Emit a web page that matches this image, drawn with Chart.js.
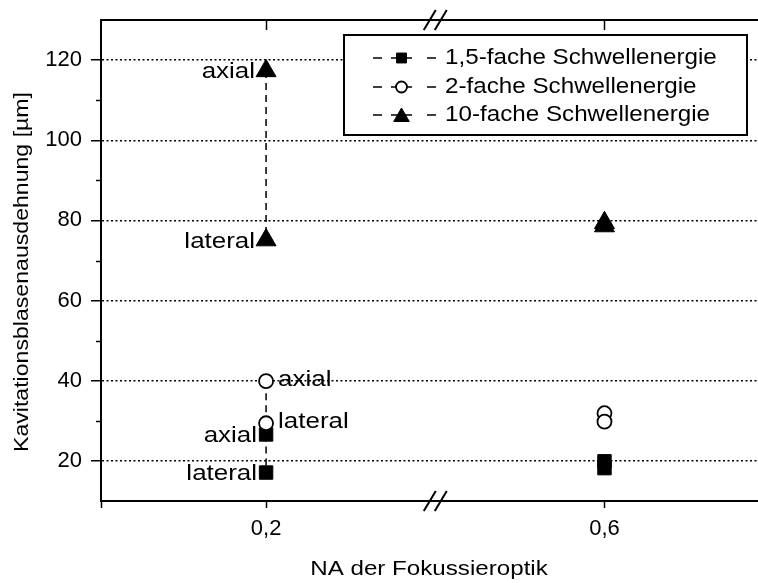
<!DOCTYPE html>
<html>
<head>
<meta charset="utf-8">
<script src="https://cdn.jsdelivr.net/npm/chart.js@4.4.1/dist/chart.umd.min.js"></script>
<style>
  html, body { margin: 0; padding: 0; background: #fff; }
  #wrap { width: 758px; height: 583px; overflow: hidden; }
</style>
</head>
<body>
<div id="wrap"><canvas id="blasenChart" width="758" height="583"></canvas></div>
<script>
// NA der Fokussieroptik
var naValues = [0.2, 0.6];
var pointNames = ['axial', 'lateral'];

// Blasenausdehnung in µm, ein Wert je NA
var axial15 = [26.6, 19.9];
var lateral15 = [17.1, 18.2];
var axial2 = [39.9, 31.9];
var lateral2 = [29.4, 29.8];
var axial10 = [117.3, 79.4];
var lateral10 = [75.1, 78.6];

var seriesLabels = ['1,5-fache Schwellenergie', '2-fache Schwellenergie', '10-fache Schwellenergie'];
var yLabelTicks = [20, 40, 60, 80, 100, 120];

var FONT = "'Liberation Sans', Arial, sans-serif";

// broken x axis: values right of the break are pulled to the left
var xBreak = 0.3025;
var xShift = 0.195;
function axisPos(na) { return na > xBreak ? na - xShift : na; }
function naFromPos(v) { return v > xBreak ? v + xShift : v; }

// axial + lateral per NA, null ends the dashed segment
function buildPoints(axial, lateral) {
  var pts = [];
  naValues.forEach(function(na, i) {
    pts.push({x: axisPos(na), y: axial[i]});
    pts.push({x: axisPos(na), y: lateral[i]});
    pts.push({x: axisPos(na), y: null});
  });
  return pts;
}

var common = {
  showLine: true,
  spanGaps: false,
  borderColor: '#000',
  borderWidth: 1.5,
  borderDash: [7, 5],
  pointBorderColor: '#000'
};

var datasets = [
  Object.assign({}, common, {
    label: seriesLabels[0],
    data: buildPoints(axial15, lateral15),
    pointStyle: 'rect', pointRadius: 9.5, pointBorderWidth: 1,
    pointBackgroundColor: '#000', order: 1
  }),
  Object.assign({}, common, {
    label: seriesLabels[1],
    data: buildPoints(axial2, lateral2),
    pointStyle: 'circle', pointRadius: 7, pointBorderWidth: 1.8,
    pointBackgroundColor: '#fff', order: 0
  }),
  Object.assign({}, common, {
    label: seriesLabels[2],
    data: buildPoints(axial10, lateral10),
    pointStyle: 'triangle', pointRadius: 11.5, pointBorderWidth: 1,
    pointBackgroundColor: '#000', order: 2
  })
];

function stretchText(ctx, text, x, y, align, sx, rot) {
  ctx.save();
  ctx.translate(x, y);
  if (rot) ctx.rotate(rot);
  ctx.scale(sx, 1);
  ctx.textAlign = align;
  ctx.textBaseline = 'middle';
  ctx.fillText(text, 0, 0);
  ctx.restore();
}

// top axis, break marks, minor ticks, titles
var framePlugin = {
  id: 'frame',
  afterDraw: function(chart) {
    var ctx = chart.ctx, a = chart.chartArea;
    var xs = chart.scales.x, ys = chart.scales.y;
    ctx.save();
    ctx.strokeStyle = '#000';
    ctx.fillStyle = '#000';

    ctx.lineWidth = 2;
    ctx.beginPath();
    ctx.moveTo(a.left - 1, a.top);
    ctx.lineTo(a.right, a.top);
    ctx.stroke();

    ctx.lineWidth = 1.5;
    naValues.forEach(function(na) {
      var px = Math.round(xs.getPixelForValue(axisPos(na))) + 0.5;
      ctx.beginPath();
      ctx.moveTo(px, a.top);
      ctx.lineTo(px, a.top + 10);
      ctx.stroke();
    });

    ys.ticks.forEach(function(t) {
      if (t.value <= ys.min || t.value >= ys.max || yLabelTicks.indexOf(t.value) >= 0) return;
      var py = Math.round(ys.getPixelForValue(t.value)) + 0.5;
      ctx.beginPath();
      ctx.moveTo(a.left - 5, py);
      ctx.lineTo(a.left, py);
      ctx.stroke();
    });

    // "//" on both x axis lines
    var bx = xs.getPixelForValue(xBreak);
    ctx.lineWidth = 2;
    [a.top, a.bottom].forEach(function(yy) {
      [-5.5, 5.5].forEach(function(dx) {
        ctx.beginPath();
        ctx.moveTo(bx + dx - 6, yy + 10);
        ctx.lineTo(bx + dx + 6, yy - 10);
        ctx.stroke();
      });
    });

    ctx.font = '21px ' + FONT;
    stretchText(ctx, 'NA der Fokussieroptik', 429, 569, 'center', 1.15);
    stretchText(ctx, 'Kavitationsblasenausdehnung [µm]', 22, 272, 'center', 1.1, -Math.PI / 2);
    ctx.restore();
  }
};

// axial / lateral next to the points at NA 0,2
var pointLabelPlugin = {
  id: 'pointLabels',
  afterDatasetsDraw: function(chart) {
    var ctx = chart.ctx;
    var offsets = [[-9, 1.5], [12, -1.5], [-11, 1.5]];
    ctx.save();
    ctx.fillStyle = '#000';
    ctx.font = '22px ' + FONT;
    chart.data.datasets.forEach(function(ds, d) {
      var meta = chart.getDatasetMeta(d);
      pointNames.forEach(function(name, j) {
        var el = meta.data[j];
        var off = offsets[d];
        stretchText(ctx, name, el.x + off[0], el.y + off[1], off[0] < 0 ? 'right' : 'left', 1.18);
      });
    });
    ctx.restore();
  }
};

// legend box inside the plot
var boxLegendPlugin = {
  id: 'boxLegend',
  afterDraw: function(chart) {
    var ctx = chart.ctx;
    var box = {left: 344, top: 35, right: 747, bottom: 135};
    var rows = [58, 87, 115];
    var legendRadius = [7, 5.5, 9];
    ctx.save();
    ctx.fillStyle = '#fff';
    ctx.fillRect(box.left, box.top, box.right - box.left, box.bottom - box.top);
    ctx.strokeStyle = '#000';
    ctx.lineWidth = 2;
    ctx.strokeRect(box.left, box.top, box.right - box.left, box.bottom - box.top);

    chart.data.datasets.forEach(function(ds, i) {
      var y = rows[i];
      ctx.save();
      ctx.lineWidth = 1.5;
      ctx.strokeStyle = '#000';
      ctx.setLineDash([9, 9, 21, 15, 9]);
      ctx.beginPath();
      ctx.moveTo(373, y);
      ctx.lineTo(436, y);
      ctx.stroke();
      ctx.restore();

      ctx.fillStyle = ds.pointBackgroundColor;
      ctx.strokeStyle = '#000';
      ctx.lineWidth = ds.pointBorderWidth;
      Chart.helpers.drawPoint(ctx, {
        pointStyle: ds.pointStyle, radius: legendRadius[i],
        rotation: 0, borderWidth: ds.pointBorderWidth
      }, 401.5, i === 2 ? y + 2 : y);

      ctx.fillStyle = '#000';
      ctx.font = '22px ' + FONT;
      stretchText(ctx, ds.label, 445, y, 'left', 1.1);
    });
    ctx.restore();
  }
};

var ctx = document.getElementById('blasenChart').getContext('2d');
var blasenChart = new Chart(ctx, {
  type: 'scatter',
  data: { datasets: datasets },
  options: {
    responsive: false,
    animation: false,
    devicePixelRatio: 1,
    layout: { autoPadding: false, padding: { top: 20, right: 0, left: 0, bottom: 0 } },
    plugins: { legend: { display: false }, tooltip: { enabled: false } },
    scales: {
      x: {
        type: 'linear',
        min: 0.1,
        max: 0.498,
        afterBuildTicks: function(scale) {
          scale.ticks = [0.1].concat(naValues.map(axisPos)).map(function(v) { return {value: v}; });
        },
        afterFit: function(scale) {
          scale.height = 82;
          scale.paddingLeft = 0;
          scale.paddingRight = 0;
        },
        ticks: {
          autoSkip: false,
          maxRotation: 0,
          padding: 8,
          color: '#000',
          font: { family: FONT, size: 22 },
          callback: function(v) {
            if (v < 0.15) return '';
            return naFromPos(v).toFixed(1).replace('.', ',');
          }
        },
        grid: { drawOnChartArea: false, tickLength: 7, tickWidth: 1.5, tickColor: '#000' },
        border: { color: '#000', width: 2 }
      },
      y: {
        min: 10,
        max: 130,
        afterFit: function(scale) {
          scale.width = 101;
          scale.paddingTop = 0;
          scale.paddingBottom = 0;
        },
        ticks: {
          stepSize: 10,
          padding: 9,
          color: '#000',
          font: { family: FONT, size: 22 },
          callback: function(v) { return yLabelTicks.indexOf(v) >= 0 ? String(v) : ''; }
        },
        grid: {
          lineWidth: 1.5,
          tickLength: 10,
          tickWidth: 1.5,
          color: function(c) { return c.tick && yLabelTicks.indexOf(c.tick.value) >= 0 ? '#000' : 'rgba(0,0,0,0)'; },
          tickColor: function(c) { return c.tick && yLabelTicks.indexOf(c.tick.value) >= 0 ? '#000' : 'rgba(0,0,0,0)'; }
        },
        border: { color: '#000', width: 2, dash: [2, 2.5] }
      }
    }
  },
  plugins: [framePlugin, pointLabelPlugin, boxLegendPlugin]
});
</script>
</body>
</html>
